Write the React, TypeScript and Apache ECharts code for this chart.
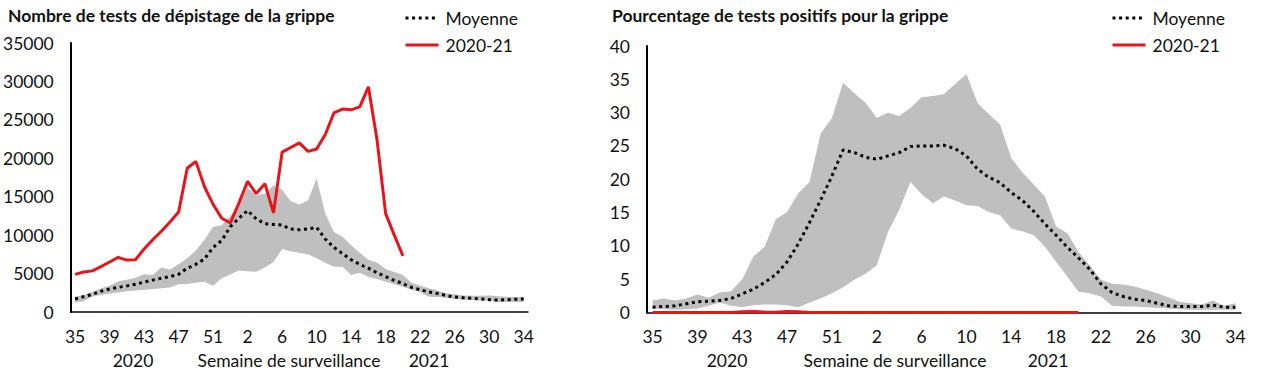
import React, { useEffect, useRef } from "react";
import * as echarts from "echarts";

const weeks = [
  "35", "36", "37", "38", "39", "40", "41", "42", "43", "44", "45", "46", "47", "48", "49", "50", "51", "52", "53",
  "1", "2", "3", "4", "5", "6", "7", "8", "9", "10", "11", "12", "13", "14", "15", "16", "17", "18", "19", "20",
  "21", "22", "23", "24", "25", "26", "27", "28", "29", "30", "31", "32", "33", "34",
];

// Left panel: number of tests
const testsMean = [
  1700, 2000, 2300, 2700, 3000, 3200, 3400, 3600, 3900, 4150, 4400, 4600, 4900, 5700, 6200, 6900, 8400, 9300, 11100,
  12200, 13200, 12100, 11500, 11400, 11300, 10800, 10700, 10800, 11000, 9500, 8400, 7600, 6800, 6200, 5700, 5100, 4600, 4100, 3700,
  3200, 2900, 2600, 2400, 2150, 1950, 1850, 1800, 1700, 1600, 1550, 1600, 1650, 1700,
];
const testsMin = [
  1250, 1400, 2000, 2200, 2400, 2550, 2700, 2800, 2900, 3000, 3100, 3200, 3600, 3650, 3800, 3950, 3400, 4400, 4900,
  5400, 5300, 5250, 5800, 6500, 8200, 7900, 7700, 7500, 7000, 6400, 5900, 5900, 4800, 5100, 4600, 4300, 3950, 3600, 3300,
  2900, 2600, 2000, 1950, 1850, 1700, 1600, 1550, 1500, 1450, 1300, 1300, 1300, 1300,
];
const testsMax = [
  2000, 2200, 2600, 3100, 3400, 4000, 4200, 4450, 4900, 4800, 5800, 5500, 6200, 7000, 8000, 9400, 11100, 11300, 12500,
  14000, 16100, 15200, 15400, 16500, 15900, 14400, 14000, 14500, 17400, 12800, 10400, 9800, 8700, 7700, 6800, 6400, 5600, 5200, 4800,
  3800, 3400, 3100, 2800, 2450, 2300, 2150, 2100, 2100, 2150, 2050, 2000, 1950, 1950,
];
const tests2021 = [
  4900, 5200, 5350, 5900, 6500, 7100, 6750, 6800, 8200, 9400, 10500, 11700, 13000, 18700, 19600, 16300, 14000, 12200, 11600,
  14200, 17000, 15400, 16700, 12900, 20800, 21400, 22000, 20900, 21200, 23100, 25900, 26400, 26300, 26700, 29300, 22400, 12800, 10000, 7300,
];

// Right panel: percent positive
const posMean = [
  0.8, 0.9, 1.0, 1.3, 1.6, 1.7, 1.8, 2.1, 2.8, 3.5, 4.5, 5.7, 7.6, 10.3, 13.5, 16.9, 20.5, 24.4, 24.0,
  23.3, 23.0, 23.5, 24.0, 24.9, 25.0, 25.0, 25.1, 24.6, 23.5, 21.5, 20.3, 19.5, 18.0, 16.8, 15.2, 13.3, 11.6, 9.8, 8.2,
  6.5, 4.3, 3.0, 2.4, 2.0, 1.8, 1.4, 1.0, 0.9, 0.9, 0.9, 1.1, 0.8, 0.8,
];
const posMin = [
  0.6, 0.5, 0.4, 0.5, 0.6, 1.0, 1.5, 1.0, 0.8, 1.1, 1.2, 1.2, 1.1, 0.8, 1.5, 2.1, 2.9, 3.8, 4.9,
  5.8, 7.1, 12.1, 15.4, 19.6, 17.8, 16.4, 17.4, 16.8, 16.1, 16.0, 15.1, 14.6, 12.6, 12.2, 11.6, 9.9, 7.6, 5.4, 3.1,
  2.9, 2.4, 1.0, 0.9, 0.9, 0.8, 0.7, 0.6, 0.5, 0.4, 0.4, 0.4, 0.4, 0.4,
];
const posMax = [
  1.8, 2.1, 1.8, 2.1, 2.7, 2.2, 3.0, 3.2, 5.0, 8.4, 9.9, 14.0, 15.1, 17.9, 19.6, 26.9, 29.2, 34.5, 32.9,
  31.5, 29.2, 30.0, 29.5, 30.7, 32.3, 32.5, 32.8, 34.3, 35.8, 31.4, 29.8, 28.2, 23.2, 21.0, 19.2, 17.4, 12.9, 11.9, 9.1,
  7.1, 4.9, 4.3, 4.2, 3.9, 3.4, 2.9, 2.3, 1.6, 1.4, 1.2, 1.8, 1.0, 1.4,
];
const pos2021 = [
  0, 0, 0, 0, 0, 0, 0, 0, 0.1, 0.15, 0.05, 0.05, 0.15, 0.1, 0, 0, 0, 0, 0,
  0, 0, 0, 0, 0, 0, 0, 0, 0, 0, 0, 0, 0, 0, 0, 0, 0, 0, 0, 0,
];

const titles = ["Nombre de tests de dépistage de la grippe", "Pourcentage de tests positifs pour la grippe"];
const legendNames = ["Moyenne", "2020-21"];
const xAxisTitle = "Semaine de surveillance";
const yearLabels = ["2020", "2021"];

const FONT = "Lato, 'Open Sans', sans-serif";
const FS = 17.5;
const RED = "#e8141c";
const GREY = "#bfbfbf";

function diff(a: number[], b: number[]) {
  return a.map((v, i) => +(v - b[i]).toFixed(2));
}

export default function App() {
  const ref = useRef<HTMLDivElement>(null);

  useEffect(() => {
    if (!ref.current) return;
    const chart = echarts.init(ref.current, null, { renderer: "svg" });

    const grids = [
      { left: 67, top: 43, width: 461, height: 269 },
      { left: 647, top: 46, width: 594, height: 266.5 },
    ];

    const xAxis = [0, 1].map((g) => ({
      type: "category",
      gridIndex: g,
      data: weeks,
      boundaryGap: true,
      axisLine: { show: true, lineStyle: { color: "#000", width: 1.5 } },
      axisTick: { show: false },
      axisLabel: { interval: 3, fontSize: FS, color: "#111", margin: 15, fontFamily: FONT },
      splitLine: { show: false },
    }));

    const yAxis = [
      { max: 35000, interval: 5000, margin: 17 },
      { max: 40, interval: 5, margin: 17 },
    ].map((c, g) => ({
      type: "value",
      gridIndex: g,
      min: 0,
      max: c.max,
      interval: c.interval,
      axisLine: { show: true, lineStyle: { color: "#000", width: 2 } },
      axisTick: { show: false },
      splitLine: { show: false },
      axisLabel: {
        fontSize: FS,
        color: "#111",
        margin: c.margin,
        fontFamily: FONT,
        formatter: (v: number) => String(v),
      },
    }));

    const panels = [
      { mean: testsMean, min: testsMin, max: testsMax, cur: tests2021 },
      { mean: posMean, min: posMin, max: posMax, cur: pos2021 },
    ];

    const series: any[] = [];
    panels.forEach((p, g) => {
      series.push({
        name: "lower" + g,
        type: "line",
        xAxisIndex: g,
        yAxisIndex: g,
        data: p.min,
        stack: "band" + g,
        symbol: "none",
        lineStyle: { width: 0, opacity: 0 },
        silent: true,
        z: 1,
      });
      series.push({
        name: "band" + g,
        type: "line",
        xAxisIndex: g,
        yAxisIndex: g,
        data: diff(p.max, p.min),
        stack: "band" + g,
        symbol: "none",
        lineStyle: { width: 0, opacity: 0 },
        areaStyle: { color: GREY, opacity: 1 },
        silent: true,
        z: 1,
      });
      series.push({
        name: legendNames[0],
        type: "line",
        xAxisIndex: g,
        yAxisIndex: g,
        data: p.mean,
        symbol: "none",
        lineStyle: { color: "#000", width: 3, type: [3, 3.6] },
        itemStyle: { color: "#000" },
        z: 3,
      });
      series.push({
        name: legendNames[1],
        type: "line",
        xAxisIndex: g,
        yAxisIndex: g,
        data: p.cur,
        symbol: "none",
        lineStyle: { color: RED, width: 3 },
        itemStyle: { color: RED },
        z: 4,
      });
    });

    const legendLefts = [404, 1111];
    const legend = legendLefts.map((l) => ({
      data: legendNames,
      orient: "vertical",
      left: l,
      top: 9,
      padding: 0,
      itemWidth: 33,
      itemHeight: 14,
      itemGap: 9,
      selectedMode: false,
      itemStyle: { opacity: 0 },
      lineStyle: { width: 3 },
      textStyle: { fontSize: FS, color: "#111", fontFamily: FONT, padding: [0, 0, 0, 2] },
    }));

    const titleLefts = [8, 612];
    const title = titles.map((t, i) => ({
      text: t,
      left: titleLefts[i],
      top: 6,
      padding: 0,
      textStyle: { fontSize: FS, fontWeight: "bold", color: "#111", fontFamily: FONT },
    }));

    const bottomTexts = [
      { text: yearLabels[0], x: 133 },
      { text: xAxisTitle, x: 289 },
      { text: yearLabels[1], x: 429 },
      { text: yearLabels[0], x: 727 },
      { text: xAxisTitle, x: 895 },
      { text: yearLabels[1], x: 1048 },
    ];

    chart.setOption({
      animation: false,
      title,
      legend,
      grid: grids,
      xAxis,
      yAxis,
      series,
      graphic: bottomTexts.map((b) => ({
        type: "text",
        x: b.x,
        y: 360,
        style: {
          text: b.text,
          fontSize: FS,
          fill: "#111",
          fontFamily: FONT,
          align: "center",
          verticalAlign: "middle",
        },
      })),
    });

    return () => chart.dispose();
  }, []);

  return (
    <div
      ref={ref}
      style={{ position: "fixed", left: 0, top: 0, width: 1262, height: 376, background: "#fff" }}
    />
  );
}
